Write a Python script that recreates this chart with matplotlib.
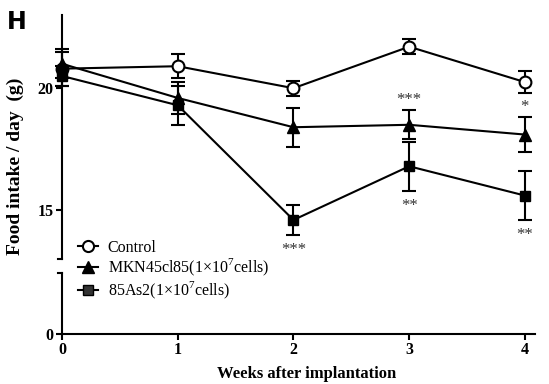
import matplotlib
matplotlib.use("Agg")
import matplotlib.pyplot as plt
from matplotlib.lines import Line2D

weeks = [0, 1, 2, 3, 4]
control = [20.8, 20.9, 20.0, 21.7, 20.25]
control_err = [0.7, 0.5, 0.3, 0.3, 0.45]
mkn = [21.0, 19.6, 18.4, 18.5, 18.1]
mkn_err = [0.6, 0.65, 0.8, 0.6, 0.7]
as2 = [20.5, 19.3, 14.6, 16.8, 15.6]
as2_err = [0.4, 0.8, 0.6, 1.0, 1.0]
labels = ["Control", "MKN45cl85(1×10$^{7}$cells)", "85As2(1×10$^{7}$cells)"]
star_x = [2, 3, 3, 4, 4]
star_y = [14.6, 18.5, 16.8, 18.1, 15.6]
star_err = [0.6, 0.6, 1.0, 0.7, 1.0]
star_txt = ["***", "***", "**", "*", "**"]
star_pos = ["below", "above", "below", "above", "below"]

plt.rcParams['font.family'] = ['Liberation Serif', 'DejaVu Serif']
plt.rcParams['mathtext.fontset'] = 'custom'
plt.rcParams['mathtext.rm'] = 'Liberation Serif'

fig = plt.figure(figsize=(5.49, 3.84), dpi=100)
L, W = 0.113, 0.862
ax = fig.add_axes([L, 0.3255, W, 0.6355])
ax2 = fig.add_axes([L, 0.130, W, 0.159])

xmax = 4.09
for a in (ax, ax2):
    a.set_xlim(0, xmax)
    a.patch.set_visible(False)
    a.spines['top'].set_visible(False)
    a.spines['right'].set_visible(False)
    a.spines['left'].set_linewidth(1.5)
    a.spines['bottom'].set_linewidth(1.5)
    a.tick_params(width=1.5, length=4, labelsize=11.5, direction='out', pad=2)

ax.set_ylim(13, 23)
ax.set_yticks([15, 20])
ax.spines['bottom'].set_visible(False)
ax.set_xticks([])
ax2.set_ylim(0, 2.5)
ax2.set_yticks([0])
ax2.set_xticks(weeks)
for a in (ax, ax2):
    for t in a.get_xticklabels() + a.get_yticklabels():
        t.set_fontweight('bold')

kw = dict(color='black', lw=1.5, capsize=5, capthick=1.5, elinewidth=1.5, clip_on=False)
ax.errorbar(weeks, control, yerr=control_err, marker='o', mfc='white', mec='black',
            mew=1.5, ms=8.5, zorder=3, **kw)
ax.errorbar(weeks, mkn, yerr=mkn_err, marker='^', mfc='black', mec='black',
            ms=9, zorder=4, **kw)
ax.errorbar(weeks, as2, yerr=as2_err, marker='s', mfc='black', mec='black',
            ms=7.5, zorder=4, **kw)
for x, y, e, s, pos in zip(star_x, star_y, star_err, star_txt, star_pos):
    if pos == "below":
        ax.text(x, y - e - 0.3, s, ha='center', va='top', fontsize=12, color='#333333')
    else:
        ax.text(x, y + e + 0.1, s, ha='center', va='bottom', fontsize=12, color='#333333')

handles = [
    Line2D([], [], color='black', lw=1.5, marker='o', mfc='white', mec='black', mew=1.5, ms=8),
    Line2D([], [], color='black', lw=1.5, marker='^', mfc='black', mec='black', ms=8.5),
    Line2D([], [], color='black', lw=1.5, marker='s', mfc='#333333', mec='black', ms=7),
]
fig.legend(handles=handles, labels=labels, loc='center left', bbox_to_anchor=(0.142, 0.296),
           frameon=False, fontsize=11.5, handlelength=1.25, labelspacing=0.08,
           handletextpad=0.6, borderaxespad=0, borderpad=0)

ax.set_ylabel("Food intake / day  (g)", fontsize=14, fontweight='bold')
ax.yaxis.set_label_coords(-0.08, 0.38)
ax2.set_xlabel("Weeks after implantation", fontsize=12, fontweight='bold', labelpad=3)
ax2.xaxis.set_label_coords(0.516, -0.52)

# break caps
ax.plot([-0.035, 0.0], [13, 13], color='black', lw=1.5, clip_on=False)
ax2.plot([-0.035, 0.0], [2.5, 2.5], color='black', lw=1.5, clip_on=False)

fig.text(0.012, 0.925, "H", fontsize=17, fontweight='bold', family='DejaVu Sans')

fig.savefig("out.png", dpi=100)
